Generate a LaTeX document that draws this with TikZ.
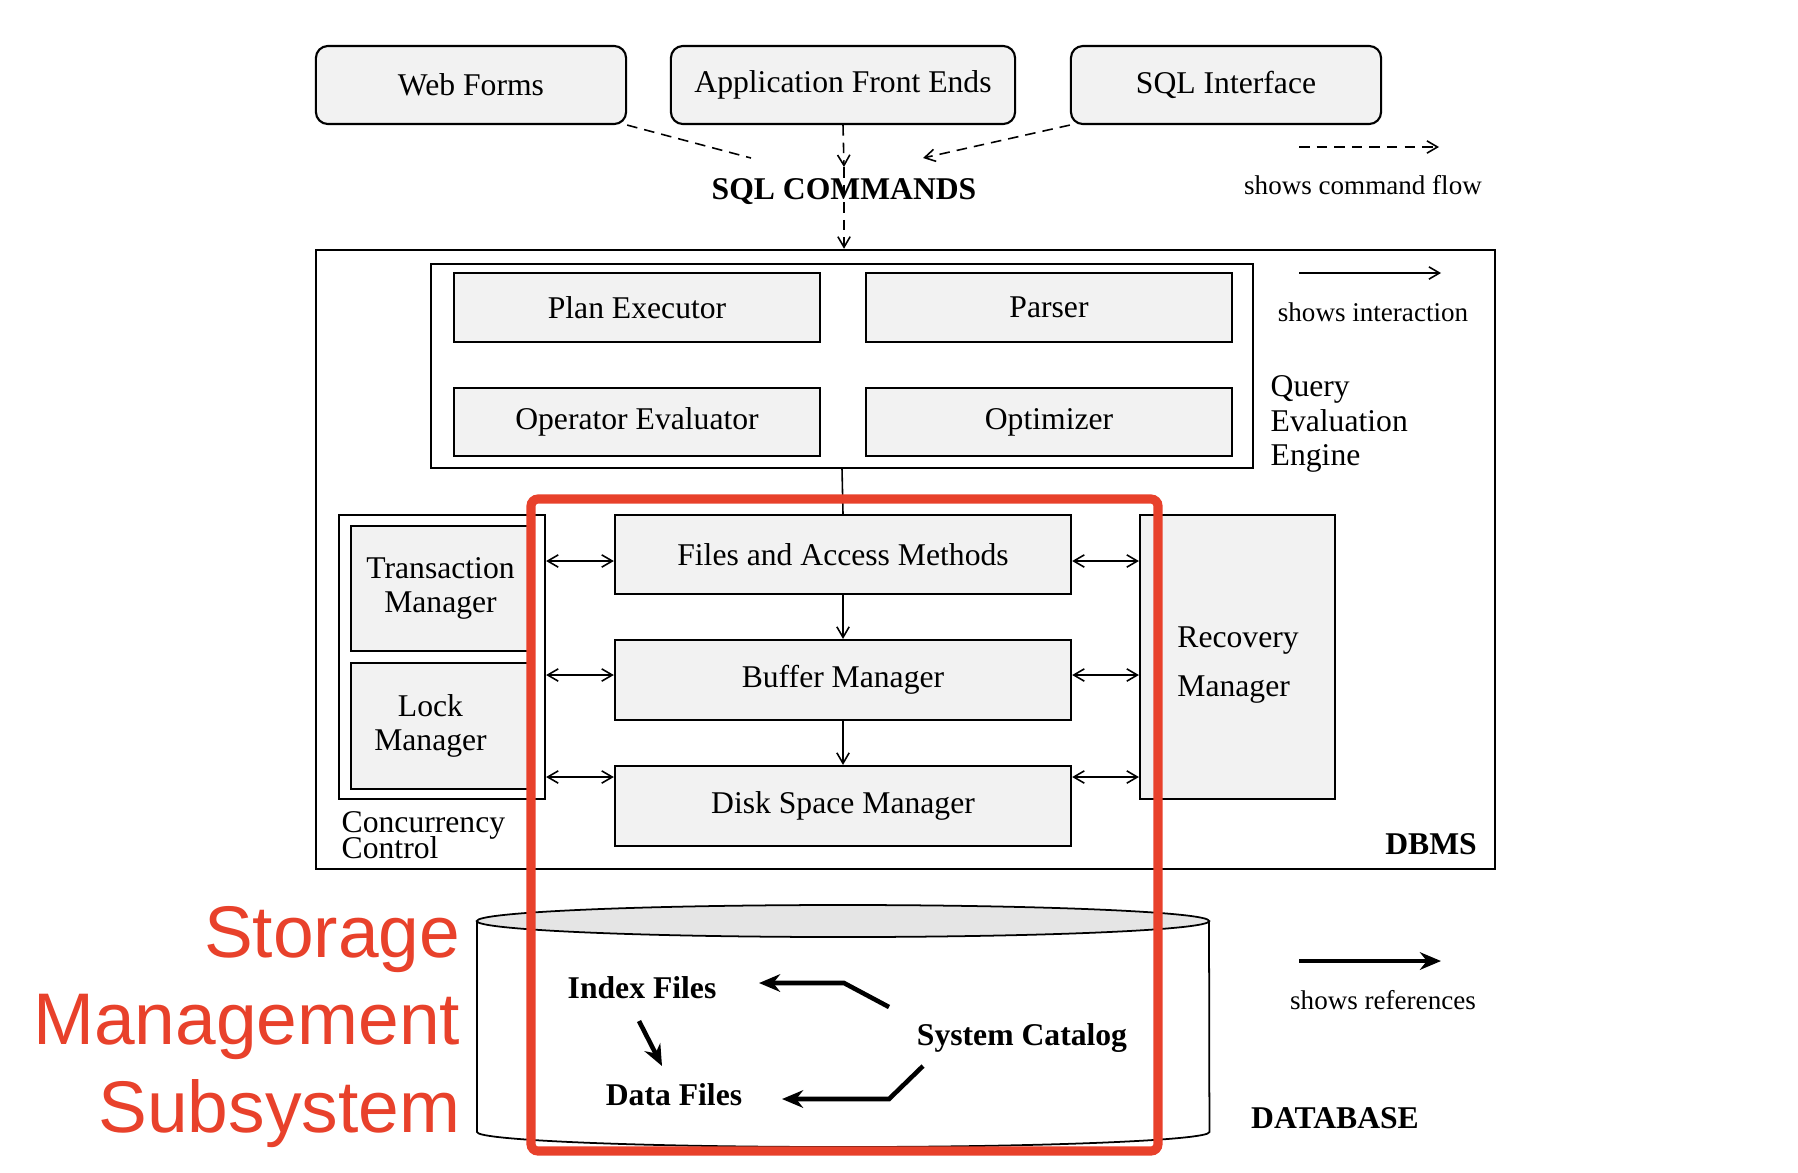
\documentclass[tikz,border=0pt]{standalone}
\usepackage{fontspec}
\setmainfont{Liberation Serif}
\newfontfamily\labelfont{Liberation Sans}
\usepackage{tikz}
\usetikzlibrary{arrows.meta}
\definecolor{storagered}{RGB}{232,65,43}
\tikzset{
	box/.style={draw,fill=black!5,line width=0.6pt,inner sep=0pt,align=center,font=\fontsize{9}{9.6}\selectfont},
	rbox/.style={box,rounded corners=0.12cm,minimum height=0.78cm},
	frame/.style={draw,line width=0.6pt,inner sep=0pt},
	cmdline/.style={dash pattern=on 3pt off 2pt,line width=0.45pt},
	cmd/.style={cmdline,-{Straight Barb[length=3pt,width=3.5pt]}},
	inter/.style={line width=0.45pt,-{Straight Barb[length=3pt,width=3.5pt]}},
	both/.style={line width=0.45pt,{Straight Barb[length=3pt,width=3.5pt]}-{Straight Barb[length=3pt,width=3.5pt]}},
	ref/.style={line width=1.3pt,-{Stealth[length=6pt,width=5pt]}},
	labl/.style={inner sep=0pt,font=\fontsize{9}{9.6}\selectfont},
	bold/.style={inner sep=0pt,font=\fontsize{9}{9.6}\selectfont\bfseries},
	legend/.style={inner sep=0pt,font=\fontsize{7.7}{9}\selectfont},
}
\begin{document}
\begin{tikzpicture}[x=0.01cm,y=-0.01cm]
\useasboundingbox (0,0) rectangle (1798,1172);

% front ends and commands
\node (wf) at (471,85) [rbox,minimum width=3.1cm] {Web Forms};
\node (app) at (843,85) [rbox,minimum width=3.44cm] {Application Front Ends};
\node (sqli) at (1226,85) [rbox,minimum width=3.1cm] {SQL Interface};
\node (cmds) at (844,192) [bold,inner sep=3.2pt] {SQL COMMANDS};
\draw[cmdline] (wf.south east) -- ([shift={(-93,-34)}]cmds.center);
\draw[cmd] (sqli.south west) -- ([shift={(79,-34)}]cmds.center);
\draw[cmd] (app.south) -- (cmds.north);

% dbms
\node (dbms) at (905.5,559.5) [frame,minimum width=11.79cm,minimum height=6.19cm] {};
\draw[cmd] (cmds.north) -- (cmds.north |- dbms.north);
\node (dbmslbl) at (1431,844) [bold] {DBMS};

% query evaluation engine
\node (qee) at (842,366) [frame,minimum width=8.22cm,minimum height=2.04cm] {};
\node (plan) at (637,307.5) [box,minimum width=3.66cm,minimum height=0.69cm] {Plan Executor};
\node (parser) at (1049,307.5) [box,minimum width=3.66cm,minimum height=0.69cm] {Parser};
\node (opeval) at (637,422) [box,minimum width=3.66cm,minimum height=0.68cm] {Operator Evaluator};
\node (optim) at (1049,422) [box,minimum width=3.66cm,minimum height=0.68cm] {Optimizer};
\node (qeelbl) at (1270,424) [labl,anchor=west,align=left,font=\fontsize{9}{9.7}\selectfont] {Query\\Evaluation\\Engine};

% storage layers
\node (files) at (843,554.5) [box,minimum width=4.56cm,minimum height=0.79cm] {Files and Access Methods};
\node (buffer) at (843,680) [box,minimum width=4.56cm,minimum height=0.8cm] {Buffer Manager};
\node (disk) at (843,806) [box,minimum width=4.56cm,minimum height=0.8cm] {Disk Space Manager};
\draw[line width=0.45pt] (qee.south) -- (files.north);
\draw[inter] (files) -- (buffer);
\draw[inter] (buffer) -- (disk);

% concurrency control
\node (cc) at (442,657) [frame,minimum width=2.06cm,minimum height=2.84cm] {};
\node (tm) at (440.5,588.5) [box,minimum width=1.79cm,minimum height=1.25cm] {Transaction\\Manager};
\node (lm) at (440.5,726) [box,minimum width=1.79cm,minimum height=1.26cm] {Lock\hspace*{0.2cm}\\Manager\hspace*{0.2cm}};
\node (cclbl) at (341,835) [labl,anchor=west,align=left] {Concurrency\\[-2.1pt]Control};

% recovery
\node (rec) at (1237.5,657) [box,minimum width=1.95cm,minimum height=2.84cm] {};
\node (reclbl) at (1238,665) [labl,align=left,font=\fontsize{9}{14}\selectfont] {Recovery\\Manager};

\foreach \y in {561,675,777} {
  \draw[both] (cc.east |- 0,\y) -- (files.west |- 0,\y);
  \draw[both] (files.east |- 0,\y) -- (rec.west |- 0,\y);
}

% legend
\coordinate (lgcmda) at (1299,147);
\coordinate (lgcmdb) at (1439,147);
\draw[cmd] (lgcmda) -- (lgcmdb);
\node (lgcmd) at (1363,185) [legend] {shows command flow};
\coordinate (lginta) at (1299,273);
\coordinate (lgintb) at (1441,273);
\draw[inter] (lginta) -- (lgintb);
\node (lgint) at (1373,312) [legend] {shows interaction};
\coordinate (lgrefa) at (1299,961);
\coordinate (lgrefb) at (1441,961);
\draw[ref] (lgrefa) -- (lgrefb);
\node (lgref) at (1383,1000) [legend] {shows references};

% database
\draw[line width=0.5pt] (477,921) -- (477,1132) arc[start angle=180,end angle=360,x radius=3.66cm,y radius=0.15cm] -- (1209,921);
\draw[line width=0.5pt,fill=black!10] (843,921) ellipse [x radius=3.66cm,y radius=0.16cm];
\node (dblbl) at (1335,1118) [bold] {DATABASE};
\node (index) at (642,988) [bold] {Index Files};
\node (data) at (674,1095) [bold] {Data Files};
\node (syscat) at (1022,1038) [bold] {System Catalog};
\draw[ref] ([shift={(-133,-31)}]syscat.center) -- ++(-45,-24) -- ([shift={(117,-5)}]index.center);
\draw[ref] ([shift={(-99,28)}]syscat.center) -- ++(-34,33) -- ([shift={(108,4)}]data.center);
\draw[ref] ([shift={(-3,33)}]index.center) -- ([shift={(-12,-29)}]data.center);

% storage management subsystem
\draw[storagered,line width=2.6pt,rounded corners=2pt] (531,499) rectangle (1158,1151);
\node (sms) at (461,1027) [anchor=east,align=right,inner sep=0pt,text=storagered,font=\labelfont\fontsize{20.8}{25}\selectfont] {Storage\\Management\\Subsystem};
\end{tikzpicture}
\end{document}
